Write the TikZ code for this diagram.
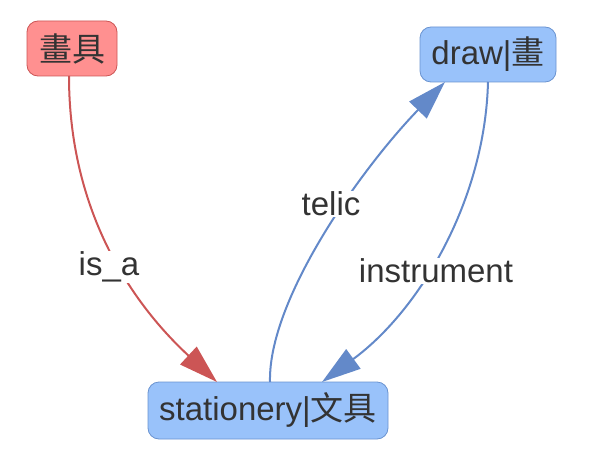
\documentclass[tikz,border=0pt]{standalone}
\usepackage{fontspec}
\setmainfont{Liberation Sans}
\newfontfamily\cjk{Noto Sans CJK TC}
\usetikzlibrary{arrows.meta}
\definecolor{redfill}{HTML}{FF9090}
\definecolor{reddraw}{HTML}{CC5555}
\definecolor{bluefill}{HTML}{99C2FA}
\definecolor{bluedraw}{HTML}{6A93D0}
\definecolor{blueedge}{HTML}{6389C9}
\definecolor{txt}{HTML}{333333}
\tikzset{
  box/.style={rectangle, rounded corners=11pt, line width=0.8pt, inner sep=0pt, text=txt,
    font=\fontsize{33}{38}\selectfont},
  redbox/.style={box, fill=redfill, draw=reddraw},
  bluebox/.style={box, fill=bluefill, draw=bluedraw},
  lbl/.style={fill=white, inner sep=1pt, text=txt, font=\fontsize{33}{38}\selectfont},
  rededge/.style={draw=reddraw, line width=2pt, -{Triangle[length=39pt,width=24pt]}},
  blueedge/.style={draw=blueedge, line width=2pt, -{Triangle[length=39pt,width=24pt]}},
}
\begin{document}
\begin{tikzpicture}[x=1pt,y=-1pt]
\useasboundingbox (0,0) rectangle (591,465);
\node[redbox, minimum width=90pt, minimum height=55pt] (hj) at (72,48.5) {\cjk 畫具};
\node[bluebox, minimum width=136pt, minimum height=55pt] (dw) at (488,54.5) {draw|{\cjk 畫}};
\node[bluebox, minimum width=240pt, minimum height=57pt] (st) at (268,410.5) {stationery|{\cjk 文具}};
\coordinate (hjb) at (69,76);
\coordinate (sta) at (217,382);
\coordinate (stb) at (270,382);
\coordinate (stc) at (322,382);
\coordinate (dwa) at (445,82);
\coordinate (dwb) at (488,82);
\draw[rededge] (hjb) .. controls (69,230) and (150,320) .. (sta);
\draw[blueedge] (stb) .. controls (268,300) and (360,170) .. (dwa);
\draw[blueedge] (dwb) .. controls (485,200) and (420,310) .. (stc);
\node[lbl] (l1) at (109,267) {is\_a};
\node[lbl] (l2) at (331,204) {telic};
\node[lbl] (l3) at (436,271) {instrument};
\end{tikzpicture}
\end{document}
